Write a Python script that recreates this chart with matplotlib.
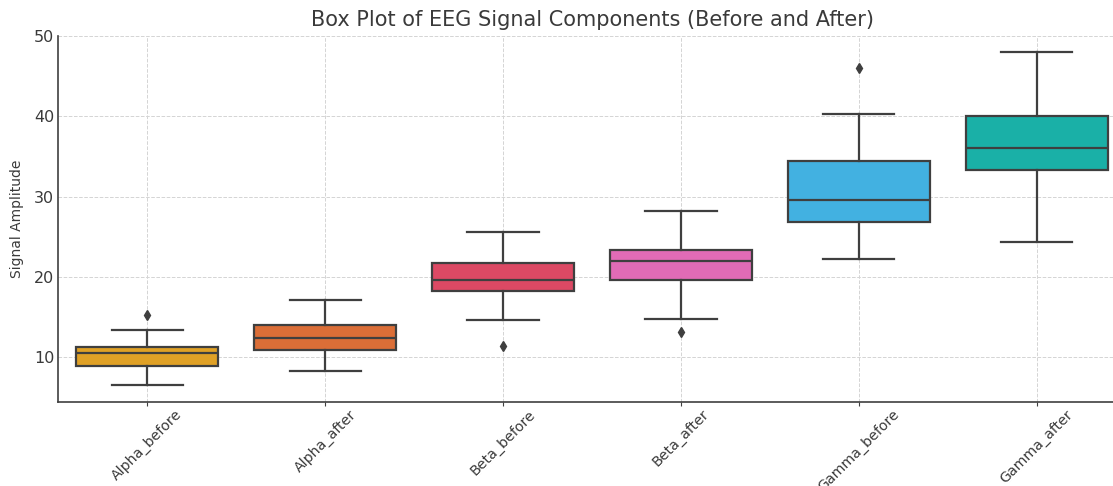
import matplotlib
matplotlib.use("Agg")
import matplotlib.pyplot as plt

# Five-number summaries and outliers for each EEG component
categories = ["Alpha_before", "Alpha_after", "Beta_before", "Beta_after",
              "Gamma_before", "Gamma_after"]
whisker_low = [6.5, 8.3, 14.65, 14.7, 22.2, 24.4]
q1 = [8.9, 10.9, 18.2, 19.6, 26.8, 33.3]
median = [10.45, 12.4, 19.6, 21.95, 29.6, 36.0]
q3 = [11.2, 14.05, 21.7, 23.35, 34.4, 40.0]
whisker_high = [13.35, 17.1, 25.6, 28.2, 40.3, 48.0]
outliers = [[15.2], [], [11.4], [13.15], [46.0], []]

box_colors = ["#E0A126", "#DB6E37", "#DC4964", "#E16BB6", "#42B1E1", "#1AB0A7"]

edge = "#3f3f3f"
text_color = "#3a3a3a"

fig = plt.figure(figsize=(11.13, 4.86), dpi=100)
ax = fig.add_axes([0.0524, 0.172, 0.959, 0.7537])

stats = []
for i, name in enumerate(categories):
    stats.append({
        "label": name,
        "whislo": whisker_low[i],
        "q1": q1[i],
        "med": median[i],
        "q3": q3[i],
        "whishi": whisker_high[i],
        "fliers": outliers[i],
    })

positions = list(range(len(categories)))
bp = ax.bxp(
    stats, positions=positions, widths=0.8, patch_artist=True,
    boxprops=dict(edgecolor=edge, linewidth=1.6),
    medianprops=dict(color=edge, linewidth=1.6),
    whiskerprops=dict(color=edge, linewidth=1.6),
    capprops=dict(color=edge, linewidth=1.6),
    flierprops=dict(marker="d", markerfacecolor=edge, markeredgecolor=edge,
                    markersize=5.5),
    zorder=3,
)
for patch, c in zip(bp["boxes"], box_colors):
    patch.set_facecolor(c)

ax.set_xlim(-0.5, 5.5)
ax.set_ylim(4.35, 50)
ax.set_yticks([10, 20, 30, 40, 50])
ax.set_xticks(positions)
ax.set_xticklabels(categories, rotation=45, ha="center", fontsize=10.2,
                   color=text_color)
ax.tick_params(axis="y", labelsize=11.5, colors=text_color, length=0, pad=3)
ax.tick_params(axis="x", length=3, color=edge, pad=0.5)
for lbl in ax.get_yticklabels():
    lbl.set_color(text_color)

ax.grid(True, linestyle="--", color="#d4d4d4", linewidth=0.7, zorder=0)
ax.set_axisbelow(True)

for side in ("top", "right"):
    ax.spines[side].set_visible(False)
for side in ("left", "bottom"):
    ax.spines[side].set_color(edge)
    ax.spines[side].set_linewidth(1.2)

ax.set_ylabel("Signal Amplitude", fontsize=10, color=text_color, labelpad=7)
ax.set_title("Box Plot of EEG Signal Components (Before and After)",
             fontsize=15, color=text_color, pad=7)

fig.savefig("out.png", dpi=100)
